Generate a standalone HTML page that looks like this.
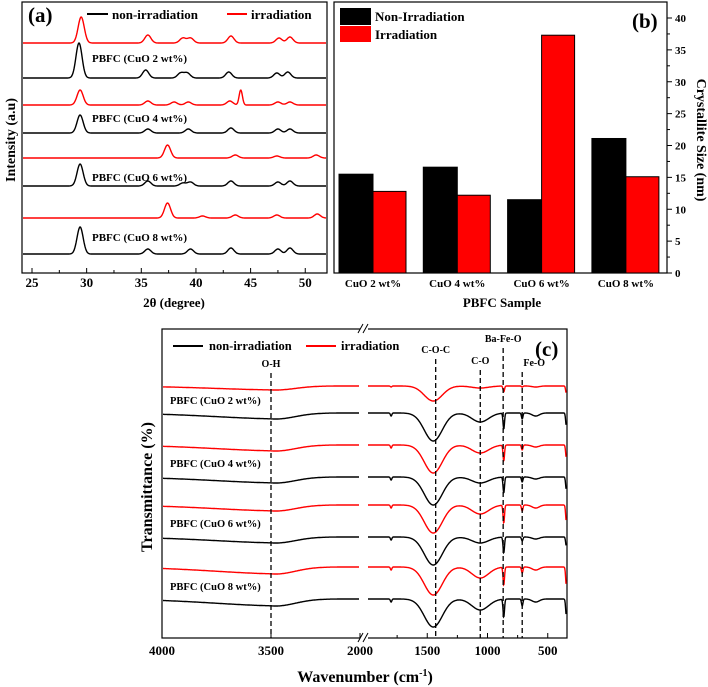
<!DOCTYPE html>
<html><head><meta charset="utf-8"><style>
html,body{margin:0;padding:0;background:#fff;}
svg{display:block;font-family:"Liberation Serif",serif;font-weight:bold;}
</style></head><body>
<svg id="fig" width="708" height="687" viewBox="0 0 708 687" xmlns="http://www.w3.org/2000/svg">
<rect width="708" height="687" fill="#fff"/>
<g id="pa"></g>
<g id="pb"></g>
<g id="pc"></g>
</svg>
<script>
// ---------- Panel (a) data ----------
const xrdTicks = [25,30,35,40,45,50];
const xrdLabels = ["PBFC (CuO 2 wt%)","PBFC (CuO 4 wt%)","PBFC (CuO 6 wt%)","PBFC (CuO 8 wt%)"];
const xrdOffsets = [43,78,105,133,158,186,218,254];
const xrdSeriesType = ["irr","non","irr","non","irr","non","irr","non"];
const xrdPeakPos = [
 [29.5,35.6,38.8,39.5,43.2,47.6,48.6],
 [29.3,35.4,38.6,39.2,43.0,47.4,48.4],
 [29.4,35.6,38.0,39.3,43.1,44.1,47.5,48.6],
 [29.4,35.6,39.3,43.2,47.5,48.6],
 [37.4,43.6,47.4,51.0],
 [29.4,35.6,38.8,39.5,43.2,47.5,48.6],
 [37.4,40.6,43.6,47.4,51.1],
 [29.4,35.6,39.5,43.2,47.5,48.6]];
const xrdPeakInt = [
 [26,8,5,5,7,5,6],
 [35,8,5,5,6,5,6],
 [15,4,3,3,4,15,3,3],
 [18,4,4,5,4,4],
 [13,3,2,3],
 [22,5,3,4,5,4,5],
 [15,2,3,3,4],
 [27,5,5,6,5,6]];
// ---------- Panel (b) data ----------
const sizeCats = ["CuO 2 wt%","CuO 4 wt%","CuO 6 wt%","CuO 8 wt%"];
const sizeNon = [15.5,16.6,11.5,21.1];
const sizeIrr = [12.8,12.2,37.3,15.1];
const sizeTicks = [0,5,10,15,20,25,30,35,40];
// ---------- Panel (c) data ----------
const irTicks = [4000,3500,2000,1500,1000,500];
const irBands = [["O-H",3500],["C-O-C",1430],["C-O",1060],["Ba-Fe-O",870],["Fe-O",712]];
const irOffsets = [386,413,445,477,505,537,567,599];
const irType = ["irr","non","irr","non","irr","non","irr","non"];
const irPeakPos = [3420,1800,1450,1060,865,712,600,345];
const irPeakDepth = [
 [4,1,15,2,6,1,1,8],
 [6,3,28,9,16,6,3,14],
 [6,3,28,8,16,5,2,14],
 [6,3,28,6,16,5,2,14],
 [6,3,28,9,18,6,3,18],
 [6,3,28,6,16,4,2,10],
 [7,3,28,11,18,6,3,20],
 [7,3,28,11,18,7,3,18]];
const irPeakWidth = [330,6,75,70,6,6,30,6];

const NS="http://www.w3.org/2000/svg";
function mk(parent,tag,attrs,text){const e=document.createElementNS(NS,tag);for(const k in attrs)e.setAttribute(k,attrs[k]);if(text!==undefined)e.textContent=text;parent.appendChild(e);return e;}
const col={irr:"#ff0000",non:"#000000"};

// ===== Panel A =====
(function(){
 const g=document.getElementById('pa');
 const L=22,R=327,T=2,B=273;
 const xs=d=>32+(d-25)*10.93;
 const fr=mk(g,'rect',{x:L,y:T,width:R-L,height:B-T,fill:'none',stroke:'#000','stroke-width':1.2});
 
 xrdTicks.forEach(t=>{const x=xs(t);
  mk(g,'line',{x1:x,y1:B,x2:x,y2:B-5,stroke:'#000'});
  const tl=mk(g,'text',{x:x,y:B+14,'text-anchor':'middle','font-size':13},t);
  
 });
 xrdTicks.forEach(t=>{const x=xs(t+2.5);if(x<R)mk(g,'line',{x1:x,y1:B,x2:x,y2:B-3,stroke:'#000'});});
 xrdOffsets.forEach((off,i)=>{
  let d='';
  for(let x=L+1;x<=R-1;x+=0.5){
   const deg=25+(x-32)/10.93;let y=0;
   xrdPeakPos[i].forEach((p,k)=>{const w=(p===44.1)?0.15:0.28;y+=xrdPeakInt[i][k]*Math.exp(-Math.pow((deg-p)/w,2)/2);});
   d+=(d?'L':'M')+x.toFixed(1)+' '+(off-y).toFixed(1);
  }
  const pth=mk(g,'path',{d:d,fill:'none',stroke:col[xrdSeriesType[i]],'stroke-width':1.4});
  
  
 });
 xrdLabels.forEach((s,i)=>{const t=mk(g,'text',{x:92,y:[62,122,181,241][i],'font-size':11},s);
  });
 const a=mk(g,'text',{x:28,y:22,'font-size':21},'(a)');
 mk(g,'line',{x1:87,y1:14,x2:108,y2:14,stroke:'#000','stroke-width':2});
 const l1=mk(g,'text',{x:112,y:19,'font-size':13},'non-irradiation');
 mk(g,'line',{x1:227,y1:14,x2:247,y2:14,stroke:'#f00','stroke-width':2});
 const l2=mk(g,'text',{x:251,y:19,'font-size':13},'irradiation');
 const xt=mk(g,'text',{x:174,y:307,'text-anchor':'middle','font-size':13},'2θ (degree)');
 const yt=mk(g,'text',{x:0,y:0,'text-anchor':'middle','font-size':14,transform:'translate(15,140) rotate(-90)'},'Intensity (a.u)');
})();

// ===== Panel B =====
(function(){
 const g=document.getElementById('pb');
 const L=334,R=667,T=2,B=273;
 const ys=v=>B-v*6.375;
 const gx=i=>373+i*84.3;
 mk(g,'rect',{x:L,y:T,width:R-L,height:B-T,fill:'none',stroke:'#000','stroke-width':1.2});
 sizeCats.forEach((c,i)=>{
  const b1=mk(g,'rect',{x:gx(i)-34,y:ys(sizeNon[i]),width:34,height:B-ys(sizeNon[i]),fill:'#000',stroke:'#000'});
  
  const b2=mk(g,'rect',{x:gx(i),y:ys(sizeIrr[i]),width:33,height:B-ys(sizeIrr[i]),fill:'#ff0000',stroke:'#000'});
  
  const t=mk(g,'text',{x:gx(i),y:B+14,'text-anchor':'middle','font-size':11},c);
  
 });
 sizeTicks.forEach(v=>{const y=ys(v);
  mk(g,'line',{x1:R,y1:y,x2:R+5,y2:y,stroke:'#000'});
  if(v<40)mk(g,'line',{x1:R,y1:ys(v+2.5),x2:R+3,y2:ys(v+2.5),stroke:'#000'});
  const t=mk(g,'text',{x:R+8,y:y+4,'font-size':11},v);
 });
 mk(g,'rect',{x:340,y:8,width:31,height:17,fill:'#000'});
 mk(g,'rect',{x:340,y:26,width:31,height:16,fill:'#f00'});
 const l1=mk(g,'text',{x:375,y:21,'font-size':13},'Non-Irradiation');
 const l2=mk(g,'text',{x:375,y:39,'font-size':13},'Irradiation');
 const b=mk(g,'text',{x:632,y:28,'font-size':21},'(b)');
 const xt=mk(g,'text',{x:502,y:307,'text-anchor':'middle','font-size':13},'PBFC Sample');
 const yt=mk(g,'text',{x:0,y:0,'text-anchor':'middle','font-size':14,transform:'translate(697,140) rotate(90)'},'Crystallite Size (nm)');
})();

// ===== Panel C =====
(function(){
 const g=document.getElementById('pc');
 const L=162,R=567,T=329,B=638;
 function xs(w){
  if(w>=3500) return 162+(4000-w)/500*109;
  if(w>=2000) return 271+(3500-w)/1500*89;
  return 367+(2000-w)*0.1205;
 }
 function inv(x){
  if(x<=271) return 4000-(x-162)/109*500;
  if(x<=360) return 3500-(x-271)/89*1500;
  return 2000-(x-367)/0.1205;
 }
 mk(g,'rect',{x:L,y:T,width:R-L,height:B-T,fill:'none',stroke:'#000','stroke-width':1.2});
 mk(g,'rect',{x:360,y:T-4,width:8,height:8,fill:'#fff'});
 mk(g,'rect',{x:360,y:B-4,width:8,height:8,fill:'#fff'});
 [[358,T+4,363,T-5],[363,T+4,368,T-5],[358,B+4,363,B-5],[363,B+4,368,B-5]].forEach(a=>mk(g,'line',{x1:a[0],y1:a[1],x2:a[2],y2:a[3],stroke:'#000'}));
 irTicks.forEach(t=>{const x=xs(t);
  mk(g,'line',{x1:x,y1:B,x2:x,y2:B-5,stroke:'#000'});
  const tl=mk(g,'text',{x:x,y:B+17,'text-anchor':'middle','font-size':13},t);
  
 });
 [1750,1250,750].forEach(t=>mk(g,'line',{x1:xs(t),y1:B,x2:xs(t),y2:B-3,stroke:'#000'}));
 irOffsets.forEach((off,i)=>{
  [[L+1,359],[368,R-1]].forEach(seg=>{
   let d='';
   for(let x=seg[0];x<=seg[1];x+=0.4){
    const w=inv(x);let y=0;
    irPeakPos.forEach((p,k)=>{y+=irPeakDepth[i][k]*Math.exp(-Math.pow((w-p)/irPeakWidth[k],2)/2);});
    d+=(d?'L':'M')+x.toFixed(1)+' '+(off+y).toFixed(1);
   }
   const pth=mk(g,'path',{d:d,fill:'none',stroke:col[irType[i]],'stroke-width':1.4});
   
   
  });
 });
 const labY={"O-H":367,"C-O-C":353,"C-O":364,"Ba-Fe-O":342,"Fe-O":366};
 irBands.forEach(b=>{const x=xs(b[1]);
  const ln=mk(g,'line',{x1:x,y1:labY[b[0]]+6,x2:x,y2:B,stroke:'#000','stroke-width':1.3,'stroke-dasharray':'5,3'});
  
  const t=mk(g,'text',{x:b[0]==="Fe-O"?x+12:x,y:labY[b[0]],'text-anchor':'middle','font-size':10},b[0]);
  
 });
 xrdLabels.forEach((s,i)=>{const t=mk(g,'text',{x:170,y:[404,467,527,590][i],'font-size':10.5},s);
  });
 mk(g,'line',{x1:173,y1:346,x2:203,y2:346,stroke:'#000','stroke-width':2});
 const l1=mk(g,'text',{x:209,y:350,'font-size':12.5},'non-irradiation');
 mk(g,'line',{x1:306,y1:346,x2:336,y2:346,stroke:'#f00','stroke-width':2});
 const l2=mk(g,'text',{x:341,y:350,'font-size':12.5},'irradiation');
 const c=mk(g,'text',{x:535,y:356,'font-size':21},'(c)');
 const xt=mk(g,'text',{x:365,y:682,'text-anchor':'middle','font-size':16},'Wavenumber (cm');
 const ts=document.createElementNS(NS,'tspan');ts.setAttribute('dy','-6');ts.setAttribute('font-size','10');ts.textContent='-1';xt.appendChild(ts);
 const ts2=document.createElementNS(NS,'tspan');ts2.setAttribute('dy','6');ts2.textContent=')';xt.appendChild(ts2);
 const yt=mk(g,'text',{x:0,y:0,'text-anchor':'middle','font-size':16,transform:'translate(152,487) rotate(-90)'},'Transmittance (%)');
})();
</script>
</body></html>
